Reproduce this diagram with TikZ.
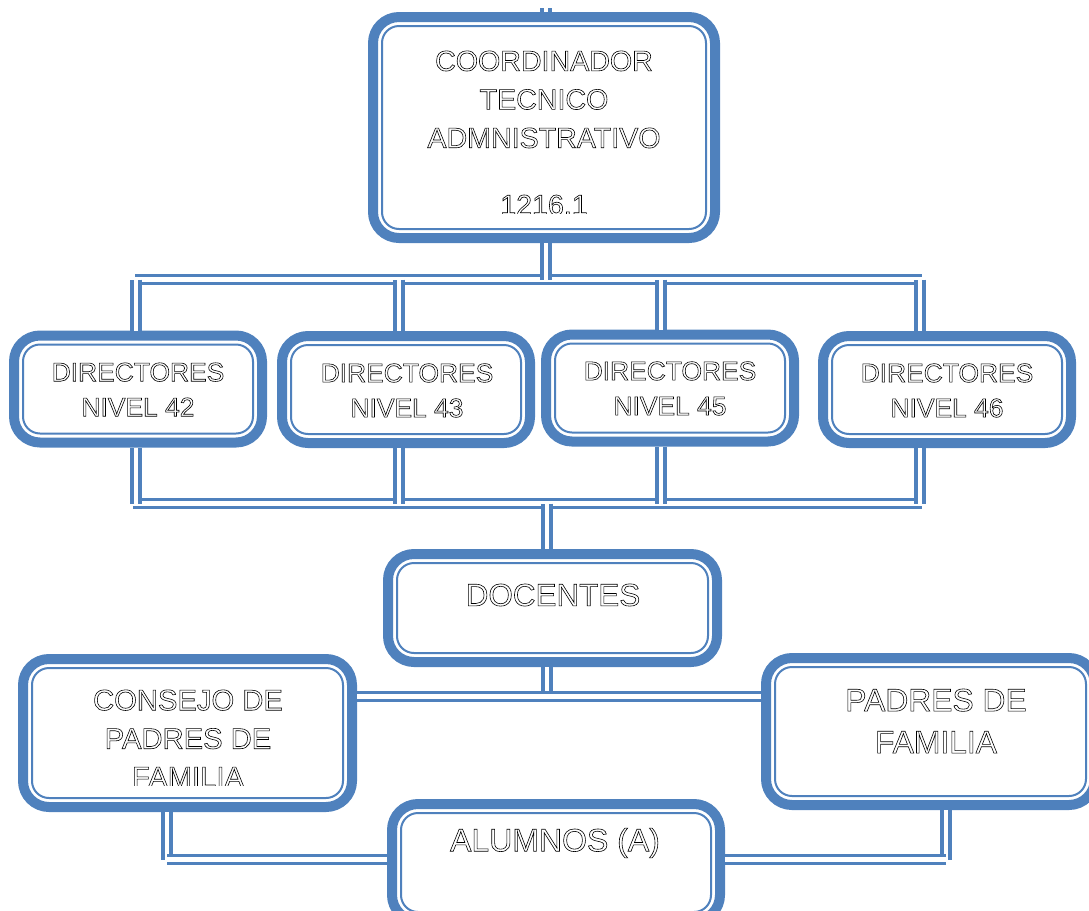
\documentclass[tikz,border=0pt]{standalone}
\usepackage{xcolor}
\usepackage{fontspec}
\setmainfont{Liberation Sans}
\definecolor{orgblue}{RGB}{79,129,189}
\newcommand{\hollowon}{\special{pdf:literal direct 1 Tr 0.3 w}}
\newcommand{\hollowoff}{\special{pdf:literal direct 0 Tr}}
\tikzset{
    org-box/.style = {draw=orgblue, fill=white, line width=5pt, rectangle, rounded corners=13pt},
    org-inner/.style = {draw=orgblue, line width=1pt, rounded corners=8.5pt},
    org-link/.style = {draw=orgblue, line width=1.75pt, double=white, double distance=2.25pt},
    org-text/.style = {text=black, align=center, inner sep=0pt, execute at begin node=\hollowon, execute at end node=\hollowoff},
    dir-box/.style = {org-box, minimum width=124pt, minimum height=53.5pt},
}

\begin{document}
\begin{tikzpicture}[x=0.5pt, y=-0.5pt]
\useasboundingbox (0,0) rectangle (1089,911);

\node[org-box, minimum width=171pt, minimum height=110.5pt] (coord) at (544,127.5) {};
\node[dir-box] (d42) at (138,389) {};
\node[dir-box] (d43) at (406,389.5) {};
\node[dir-box] (d45) at (670,388) {};
\node[dir-box] (d46) at (947,389.5) {};
\node[org-box, minimum width=164.5pt, minimum height=54pt] (doc) at (552.5,608) {};
\node[org-box, minimum width=164.5pt, minimum height=74pt] (consejo) at (187.5,733) {};
\node[org-box, minimum width=164.5pt, minimum height=73.5pt] (padres) at (930.5,731.5) {};
\node[org-box, minimum width=164pt, minimum height=58.5pt] (alumnos) at (556,862.5) {};

\foreach \b in {coord,d42,d43,d45,d46,doc,consejo,padres,alumnos}
    \draw[org-inner] ([xshift=7pt,yshift=7pt]\b.south west) rectangle ([xshift=-7pt,yshift=-7pt]\b.north east);

\begin{scope}
\clip (380,20) rectangle (710,213);
\node[org-text, font=\fontsize{14.3}{19.25}\selectfont] (coordtxt) at (544,133) {COORDINADOR\\TECNICO\\ADMNISTRATIVO\\[14.3pt]1216.1};
\end{scope}
\foreach \n/\x/\y/\t in {d42/138/389.5/42, d43/407/390.5/43, d45/670/388.5/45, d46/947/390.5/46}
    \node[org-text, font=\fontsize{13.2}{17.5}\selectfont] (\n txt) at (\x,\y) {DIRECTORES\\NIVEL \t};
\node[org-text, font=\fontsize{15.7}{19}\selectfont] (doctxt) at (553,595) {DOCENTES};
\begin{scope}
\clip (30,665) rectangle (350,785);
\node[org-text, font=\fontsize{14.6}{19.25}\selectfont] (consejotxt) at (188,738.5) {CONSEJO DE\\PADRES DE\\FAMILIA};
\end{scope}
\node[org-text, font=\fontsize{15.9}{21}\selectfont] (padrestxt) at (936,721) {PADRES DE\\FAMILIA};
\node[org-text, font=\fontsize{16}{19}\selectfont] (alumnostxt) at (555,843) {ALUMNOS (A)};

\coordinate (top) at (546,8);
\coordinate (busL) at (135,279.5);
\coordinate (busR) at (922,279.5);
\coordinate (lowL) at (133,503.5);
\coordinate (lowR) at (922,503.5);
\coordinate (mid) at (547,503.5);
\coordinate (fam) at (547,696.5);
\coordinate (cl) at (167,859.5);
\coordinate (pr) at (946,859.5);

\draw[org-link] (top) -- (top |- coord.north);
\draw[org-link] (busL) -- (busR);
\draw[org-link] (lowL) -- (lowR);
\draw[org-link] (coord.south -| top) -- (top |- busL);
\foreach \n/\x in {d42/136, d43/399, d45/661, d46/920} {
    \coordinate (up\n) at (\x,279.5);
    \coordinate (dn\n) at (\x,503.5);
    \draw[org-link] (up\n) -- (up\n |- \n.north);
    \draw[org-link] (\n.south -| dn\n) -- (dn\n);
}
\draw[org-link] (mid) -- (mid |- doc.north);
\draw[org-link] (doc.south -| fam) -- (fam);
\draw[org-link] (fam -| consejo.east) -- (fam -| padres.west);
\draw[org-link] (consejo.south -| cl) -- (cl);
\draw[org-link] (cl) -- (cl -| alumnos.west);
\draw[org-link] (padres.south -| pr) -- (pr);
\draw[org-link] (pr) -- (pr -| alumnos.east);
\end{tikzpicture}
\end{document}
